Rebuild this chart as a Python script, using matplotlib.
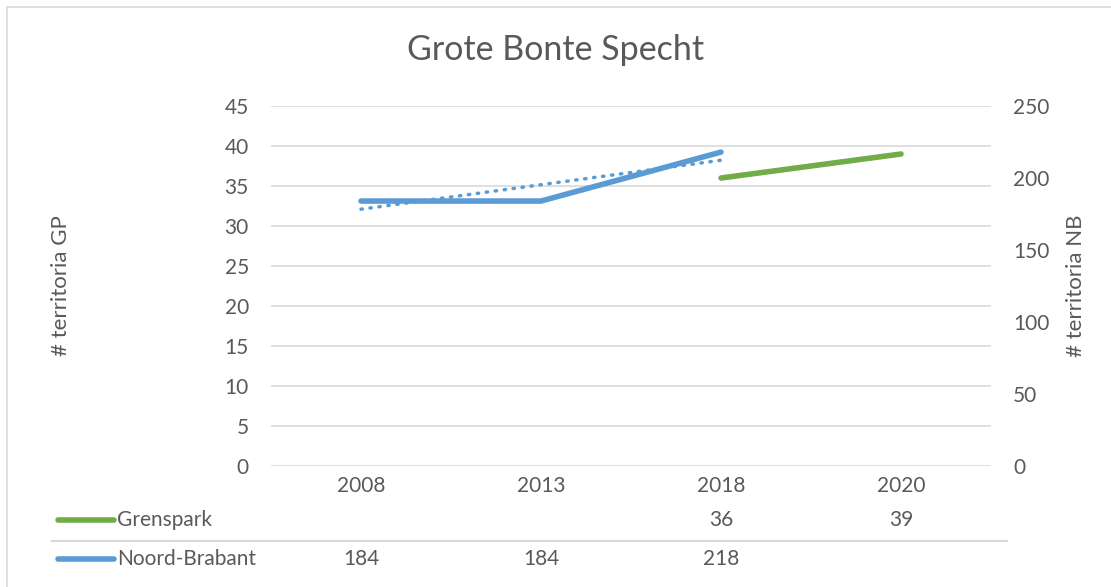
import numpy as np
import matplotlib.pyplot as plt
from matplotlib.transforms import blended_transform_factory
from matplotlib.lines import Line2D
from matplotlib.patches import Rectangle

plt.rcParams['font.family'] = ['Lato', 'DejaVu Sans']

years = ["2008", "2013", "2018", "2020"]
grenspark = [np.nan, np.nan, 36, 39]
noord_brabant = [184, 184, 218, np.nan]
gp_ticks = [0, 5, 10, 15, 20, 25, 30, 35, 40, 45]
nb_ticks = [0, 50, 100, 150, 200, 250]

txt = "#595959"
grid = "#D9D9D9"
blue = "#5B9BD5"
green = "#70AD47"
fs = 15

W, H = 1111, 587
fig = plt.figure(figsize=(W / 100, H / 100), dpi=100)
fig.patches.append(Rectangle((7 / W, -0.1), 1.2, 1 - 7 / H + 0.1, transform=fig.transFigure,
                             fill=False, edgecolor=grid, linewidth=1.2))

ax = fig.add_axes([271 / W, 1 - 466 / H, 720 / W, 360 / H])
x = np.arange(len(years))
ax.set_xlim(-0.5, len(years) - 0.5)
ax.set_ylim(0, 45)
ax.set_yticks(gp_ticks)
ax.grid(axis="y", color=grid, linewidth=1.2)
ax.set_axisbelow(True)
for s in ax.spines.values():
    s.set_visible(False)
ax.tick_params(axis="y", length=0, colors=txt, labelsize=fs, pad=16)
ax.tick_params(axis="x", length=0, colors=txt, labelsize=fs, pad=7)
ax.set_xticks(x)
ax.set_xticklabels(years)
ax.set_ylabel("# territoria GP", color=txt, fontsize=16)
ax.yaxis.set_label_coords((71 - 271) / 720, 0.5)

ax2 = ax.twinx()
ax2.set_ylim(0, 250)
ax2.set_yticks(nb_ticks)
for s in ax2.spines.values():
    s.set_visible(False)
ax2.tick_params(axis="y", length=0, colors=txt, labelsize=fs, pad=16)
ax2.set_ylabel("# territoria NB", color=txt, fontsize=16)
ax2.yaxis.set_label_coords((1066 - 271) / 720, 0.5)

ax.plot(x, grenspark, color=green, linewidth=4, solid_capstyle="round")
ax2.plot(x, noord_brabant, color=blue, linewidth=4, solid_capstyle="round")

# linear trendline for Noord-Brabant
nb = np.array(noord_brabant, dtype=float)
ok = ~np.isnan(nb)
coef = np.polyfit(x[ok], nb[ok], 1)
ax2.plot(x[ok], np.polyval(coef, x[ok]), color=blue, linewidth=2.5, linestyle=(0, (0.4, 2.2)),
         dash_capstyle="round")

fig.text(0.5, 1 - 50 / H, "Grote Bonte Specht", ha="center", va="center", color=txt, fontsize=24.5)

# data table below the chart
tr = blended_transform_factory(ax.transData, fig.transFigure)
rows = [("Grenspark", grenspark, green, 520), ("Noord-Brabant", noord_brabant, blue, 559)]
for name, vals, col, py in rows:
    yf = 1 - py / H
    fig.add_artist(Line2D([58 / W, 114 / W], [yf, yf], color=col, linewidth=4,
                          solid_capstyle="round", transform=fig.transFigure))
    fig.text(117 / W, yf, name, ha="left", va="center", color=txt, fontsize=fs)
    for xi, v in zip(x, vals):
        if not np.isnan(v):
            ax.text(xi, yf, f"{v:.0f}", transform=tr, ha="center", va="center",
                    color=txt, fontsize=fs)
sep = 1 - 541 / H
fig.add_artist(Line2D([52 / W, 1007 / W], [sep, sep], color=grid, linewidth=1.5,
                      transform=fig.transFigure))

fig.savefig("out.png", dpi=100)
